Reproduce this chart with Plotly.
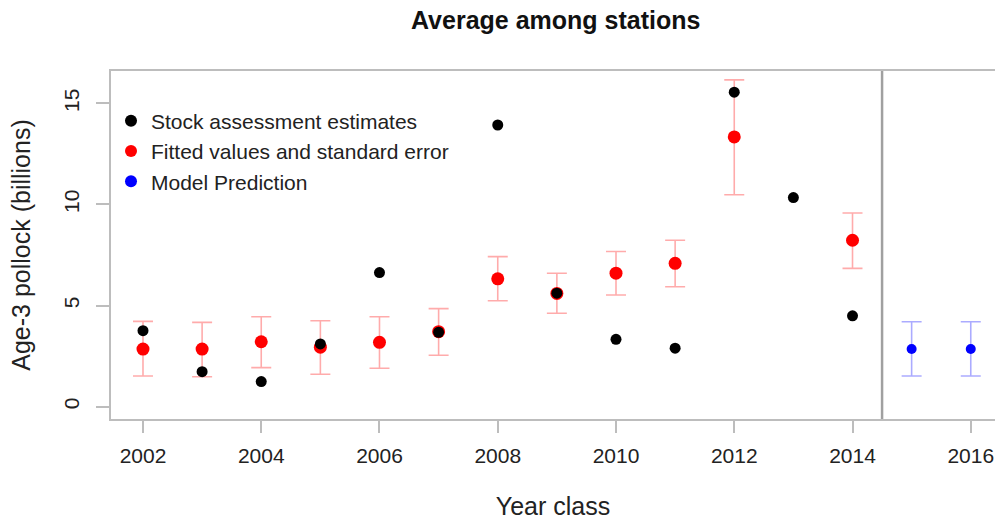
import plotly.graph_objects as go

# Stock assessment estimates
est_years = [2002, 2003, 2004, 2005, 2006, 2007, 2008, 2009, 2010, 2011, 2012, 2013, 2014]
est_values = [3.76, 1.73, 1.24, 3.10, 6.63, 3.68, 13.93, 5.61, 3.33, 2.89, 15.55, 10.34, 4.49]

# Fitted values and standard error bounds
fit_years = [2002, 2003, 2004, 2005, 2006, 2007, 2008, 2009, 2010, 2011, 2012, 2014]
fit_values = [2.85, 2.85, 3.21, 2.94, 3.18, 3.71, 6.32, 5.60, 6.60, 7.09, 13.34, 8.23]
fit_upper = [4.22, 4.17, 4.45, 4.25, 4.45, 4.85, 7.42, 6.60, 7.67, 8.23, 16.16, 9.58]
fit_lower = [1.52, 1.48, 1.93, 1.60, 1.90, 2.54, 5.24, 4.62, 5.52, 5.93, 10.48, 6.84]

# Model prediction
pred_years = [2015, 2016]
pred_values = [2.85, 2.85]
pred_upper = [4.20, 4.20]
pred_lower = [1.52, 1.52]

x_ticks = [2002, 2004, 2006, 2008, 2010, 2012, 2014, 2016]
y_ticks = [0, 5, 10, 15]
divider_year = 2014.5

FONT = "Liberation Sans, Arial, sans-serif"
GRAY = "#BDBDBD"

fig = go.Figure()

fig.add_trace(go.Scatter(
    x=fit_years, y=fit_values, mode="markers", name="Fitted values and standard error",
    legendrank=2,
    marker=dict(color="#FF0000", size=13),
    error_y=dict(type="data", symmetric=False,
                 array=[u - v for u, v in zip(fit_upper, fit_values)],
                 arrayminus=[v - l for v, l in zip(fit_values, fit_lower)],
                 color="rgba(255,0,0,0.33)", thickness=1.6, width=10),
))

fig.add_trace(go.Scatter(
    x=pred_years, y=pred_values, mode="markers", name="Model Prediction",
    legendrank=3,
    marker=dict(color="#0000FF", size=10),
    error_y=dict(type="data", symmetric=False,
                 array=[u - v for u, v in zip(pred_upper, pred_values)],
                 arrayminus=[v - l for v, l in zip(pred_values, pred_lower)],
                 color="rgba(0,0,255,0.33)", thickness=1.6, width=10),
))

fig.add_trace(go.Scatter(
    x=est_years, y=est_values, mode="markers", name="Stock assessment estimates",
    legendrank=1,
    marker=dict(color="#000000", size=11),
))

fig.add_vline(x=divider_year, line=dict(color="#A0A0A0", width=2.5))

fig.update_layout(
    width=995, height=520,
    margin=dict(l=111, r=0, t=71, b=101),
    paper_bgcolor="white", plot_bgcolor="white",
    font=dict(family=FONT, color="#222222"),
    title=dict(text="<b>Average among stations</b>", x=0.5585, xanchor="center",
               y=0.962, yanchor="middle", font=dict(size=25, color="#111111")),
    showlegend=True,
    legend=dict(x=0.0, y=0.915, xanchor="left", yanchor="top",
                bgcolor="rgba(0,0,0,0)", font=dict(size=21, color="#222222"),
                itemsizing="constant", itemwidth=30, tracegroupgap=0),
    xaxis=dict(range=[2001.459, 2016.41], tickvals=x_ticks, ticks="outside",
               ticklen=12, tickwidth=1.5, tickcolor=GRAY,
               showline=True, linecolor=GRAY, linewidth=2, mirror=True,
               showgrid=False, zeroline=False,
               tickfont=dict(size=21, color="#222222"), ticklabelstandoff=5,
               title=dict(text="Year class", font=dict(size=25, color="#222222"), standoff=31)),
    yaxis=dict(range=[-0.61, 16.60], tickvals=y_ticks, ticks="outside",
               ticklen=13, tickwidth=1.5, tickcolor=GRAY,
               showline=True, linecolor=GRAY, linewidth=2, mirror=False,
               showgrid=False, zeroline=False, tickangle=-90,
               tickfont=dict(size=21, color="#222222"), ticklabelstandoff=9,
               title=dict(text="Age-3 pollock (billions)", font=dict(size=25, color="#222222"), standoff=22)),
)

fig.write_html("out.html", config={"displayModeBar": False},
               post_script="document.body.style.margin='0px';")
